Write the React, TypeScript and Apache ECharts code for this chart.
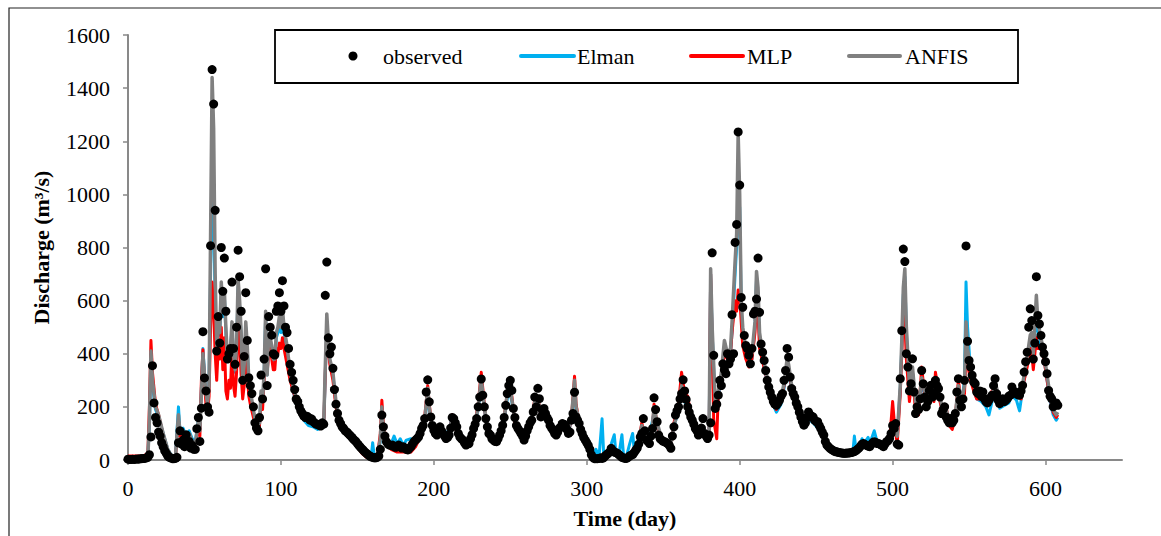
import React, { useEffect, useRef } from "react";
import * as echarts from "echarts";

// observed daily discharge, index = day
const observed: number[] = [
  3, 2, 2, 3, 2, 3, 4, 3, 5, 5,
  6, 6, 8, 10, 20, 87, 355, 215, 160, 140,
  105, 90, 65, 50, 35, 25, 15, 10, 8, 5,
  5, 6, 10, 65, 110, 60, 75, 50, 95, 60,
  70, 45, 55, 40, 40, 118, 160, 70, 195, 483,
  309, 260, 200, 180, 807, 1470, 1340, 940, 410, 540,
  440, 800, 635, 760, 560, 380, 400, 420, 670, 420,
  360, 500, 790, 690, 560, 300, 390, 630, 450, 310,
  280, 250, 200, 140, 120, 110, 160, 320, 230, 380,
  720, 280, 540, 500, 470, 400, 395, 560, 580, 630,
  560, 675, 580, 500, 480, 420, 360, 330, 300, 265,
  230, 220, 200, 185, 175, 165, 160, 165, 160, 150,
  155, 145, 140, 135, 135, 130, 128, 140, 135, 620,
  745, 460, 400, 425, 345, 265, 210, 175, 150, 137,
  125, 119, 110, 106, 100, 94, 88, 81, 75, 70,
  62, 55, 48, 42, 36, 30, 25, 20, 15, 12,
  10, 8, 8, 10, 15, 40, 169, 125, 90, 69,
  60, 56, 55, 56, 50, 48, 50, 56, 50, 45,
  50, 45, 40, 38, 44, 50, 60, 69, 75, 80,
  87, 100, 119, 130, 156, 256, 302, 219, 162, 130,
  112, 100, 94, 110, 125, 110, 100, 90, 81, 85,
  94, 120, 160, 156, 140, 125, 100, 87, 80, 75,
  65, 56, 60, 62, 80, 95, 119, 135, 156, 200,
  237, 305, 244, 200, 156, 125, 100, 94, 80, 75,
  70, 69, 80, 94, 110, 131, 160, 206, 250, 280,
  300, 262, 194, 160, 130, 119, 110, 100, 90, 75,
  90, 110, 125, 140, 150, 181, 237, 200, 270, 231,
  162, 187, 194, 175, 160, 150, 130, 120, 112, 100,
  94, 105, 119, 125, 137, 135, 131, 115, 100, 105,
  150, 175, 255, 162, 150, 137, 115, 100, 85, 75,
  65, 55, 40, 20, 10, 5, 5, 5, 6, 8,
  6, 8, 15, 20, 25, 30, 44, 35, 30, 28,
  25, 20, 15, 10, 8, 6, 6, 10, 15, 18,
  20, 28, 37, 45, 60, 87, 100, 156, 110, 75,
  70, 62, 90, 119, 234, 190, 144, 94, 80, 75,
  70, 69, 65, 62, 55, 44, 90, 125, 169, 185,
  200, 230, 250, 302, 260, 228, 200, 180, 162, 150,
  135, 119, 110, 94, 100, 120, 156, 100, 90, 81,
  94, 140, 780, 394, 194, 210, 244, 300, 280, 362,
  340, 325, 400, 362, 380, 547, 400, 819, 887, 1235,
  1035, 612, 575, 469, 431, 419, 394, 362, 420, 550,
  560, 606, 760, 556, 437, 406, 375, 337, 300, 275,
  255, 237, 220, 210, 206, 215, 225, 240, 250, 300,
  337, 420, 387, 312, 269, 250, 237, 215, 200, 180,
  162, 145, 131, 140, 160, 181, 170, 165, 162, 150,
  145, 144, 130, 119, 105, 94, 70, 56, 50, 44,
  40, 36, 33, 31, 30, 28, 27, 26, 25, 25,
  26, 26, 27, 28, 30, 32, 35, 40, 45, 52,
  60, 62, 58, 55, 52, 50, 58, 65, 69, 66,
  62, 62, 58, 55, 50, 60, 69, 72, 81, 100,
  130, 119, 137, 60, 56, 306, 487, 794, 747, 400,
  350, 260, 287, 381, 256, 175, 200, 190, 230, 337,
  287, 237, 200, 220, 262, 281, 237, 250, 300, 280,
  269, 237, 175, 190, 200, 162, 150, 140, 156, 140,
  150, 175, 256, 306, 225, 200, 230, 300, 806, 447,
  375, 350, 319, 294, 287, 256, 250, 260, 240, 256,
  231, 220, 215, 225, 235, 244, 280, 306, 250, 225,
  212, 225, 231, 220, 225, 231, 240, 244, 275, 260,
  256, 250, 245, 244, 260, 281, 331, 370, 406, 500,
  569, 525, 380, 440, 690, 544, 512, 469, 425, 400,
  370, 325, 262, 240, 231, 200, 210, 215, 206,
];

// model outputs: [day, discharge]
const elman: number[][] = [
  [0,10],[10,12],[13,20],[14,120],[15,400],[16,280],[18,190],[20,160],[23,100],[26,40],[29,12],[31,15],[33,200],[34,110],[36,120],[38,90],[40,110],[42,80],[44,70],
  [45,110],[46,150],[47,115],[48,270],[49,420],[50,330],[51,250],[52,210],[53,300],[54,700],[55,980],[56,920],[57,600],[58,430],[59,500],[60,470],[61,640],[62,540],[63,620],[64,480],[65,370],[66,390],[67,410],[68,500],[69,390],[70,330],[71,420],[72,650],[73,580],[74,460],[75,285],[76,350],[77,500],[78,420],[79,295],[80,250],[82,180],[84,115],[86,135],[87,250],[88,215],[89,320],[90,540],[91,320],[92,460],[93,450],[94,420],[95,370],[96,370],[97,460],[98,480],[99,520],[100,480],[101,540],[102,480],[104,410],
  [106,310],[108,260],[110,210],[112,180],[115,150],[118,130],[121,125],[124,115],[128,125],[129,320],[130,500],[131,430],[132,370],[134,320],[136,210],[138,150],[140,110],[145,80],[150,50],[153,28],[156,12],[159,10],[160,65],[161,15],[163,15],[165,70],[166,170],[167,110],[169,70],[172,60],[174,90],[176,60],[178,80],[180,55],[182,75],[185,80],[187,60],[190,95],[194,140],[196,250],[197,190],[199,120],[202,105],[204,125],[207,100],[210,110],[212,170],[214,130],[217,95],[220,70],[223,70],[226,110],[229,190],[231,290],[232,240],[234,150],[237,95],[240,75],[243,95],[246,150],[249,270],[251,220],[253,145],[256,105],[259,80],[262,120],[265,180],[266,210],[268,220],[270,160],[272,180],[275,140],[278,105],[280,95],[283,125],[286,120],[288,105],[290,150],[292,270],[293,190],[296,115],[299,75],[302,40],[304,15],[306,40],[308,10],[310,155],[311,30],[313,20],[315,45],[316,60],[318,95],[319,30],[321,20],[323,95],[324,20],[326,15],[328,60],[330,100],[331,40],[333,50],[336,120],[338,110],[340,110],[342,120],[344,180],[346,130],[349,80],[352,70],[355,65],[357,130],[360,180],[362,260],[364,220],[366,190],[369,140],[372,110],[375,120],[377,95],[380,100],[381,700],[382,480],[384,200],[386,240],[388,310],[390,420],[392,380],[394,400],[395,480],[397,700],[398,800],[399,1000],[400,950],[401,560],[402,470],[404,400],[406,360],[408,380],[410,500],[411,680],[412,620],[413,450],[415,380],[418,290],[421,220],[424,180],[427,210],[429,270],[431,350],[432,330],[434,260],[437,200],[440,145],[443,125],[445,155],[448,140],[451,120],[454,95],[457,60],[460,42],[465,30],[470,28],[474,30],[475,90],[476,40],[478,50],[480,80],[481,60],[484,85],[485,60],[488,110],[490,65],[492,70],[495,60],[498,85],[501,130],[503,90],[505,270],[506,430],[507,620],[508,690],[509,480],[511,270],[513,330],[515,210],[517,190],[519,290],[521,245],[523,205],[525,255],[527,225],[528,270],[531,225],[533,170],[535,180],[537,140],[539,135],[541,160],[543,260],[545,210],[547,300],[548,670],[549,500],[551,330],[553,270],[555,230],[558,220],[561,200],[563,170],[565,220],[567,280],[570,195],[573,205],[576,215],[578,245],[581,225],[583,185],[584,225],[586,300],[588,370],[590,450],[591,460],[592,380],[594,560],[595,490],[597,430],[599,380],[601,300],[603,220],[605,170],[607,150],[608,160],
];

const mlp: number[][] = [
  [0,15],[10,15],[13,25],[14,200],[15,450],[16,330],[18,210],[20,170],[23,95],[26,35],[29,8],[31,10],[33,150],[34,90],[36,100],[38,75],[40,95],[42,65],[44,55],
  [45,90],[46,130],[47,90],[48,300],[49,415],[50,290],[51,210],[52,180],[53,240],[54,500],[55,670],[56,560],[57,400],[58,300],[59,420],[60,380],[61,500],[62,340],[63,460],[64,260],[65,230],[66,300],[67,270],[68,420],[69,280],[70,240],[71,330],[72,540],[73,440],[74,320],[75,230],[76,280],[77,400],[78,320],[79,240],[80,210],[82,160],[84,110],[86,130],[87,220],[88,190],[89,300],[90,460],[91,330],[92,400],[93,420],[94,380],[95,340],[96,340],[97,420],[98,400],[99,440],[100,420],[101,460],[102,420],[104,360],
  [106,300],[108,260],[110,220],[112,190],[115,160],[118,145],[121,135],[124,125],[128,130],[129,330],[130,480],[131,420],[132,360],[134,300],[136,200],[138,150],[140,115],[145,85],[150,50],[153,25],[156,10],[160,5],[163,8],[165,100],[166,225],[167,140],[169,60],[172,40],[176,30],[180,30],[185,30],[188,50],[191,85],[194,160],[196,280],[197,210],[199,110],[202,90],[204,115],[207,80],[210,90],[212,170],[214,120],[217,80],[220,55],[223,55],[226,110],[229,210],[231,330],[232,270],[234,150],[237,90],[240,65],[243,85],[246,160],[249,300],[251,240],[253,140],[256,100],[259,70],[262,110],[265,190],[266,230],[268,240],[270,160],[272,200],[275,145],[278,100],[280,90],[283,125],[286,120],[288,100],[290,160],[292,315],[293,210],[296,110],[299,65],[302,35],[304,8],[308,5],[311,8],[314,20],[316,35],[319,20],[323,8],[326,5],[330,15],[333,35],[336,140],[338,85],[341,60],[343,120],[344,210],[346,135],[349,70],[352,55],[355,50],[357,140],[360,210],[362,330],[364,250],[366,240],[368,170],[369,140],[372,110],[375,110],[377,90],[380,80],[381,700],[382,450],[383,150],[385,80],[386,250],[388,320],[390,400],[392,380],[394,400],[395,480],[397,600],[398,560],[399,640],[400,620],[401,520],[402,430],[404,380],[406,350],[408,380],[410,480],[411,600],[412,550],[413,420],[415,370],[418,300],[421,230],[424,190],[427,220],[429,280],[431,360],[432,340],[434,270],[437,210],[440,150],[443,130],[445,160],[448,145],[451,125],[454,95],[457,55],[460,35],[465,22],[470,20],[475,22],[478,35],[481,55],[484,45],[488,55],[492,50],[495,45],[498,70],[500,220],[501,150],[503,60],[505,250],[506,400],[507,570],[508,520],[509,380],[511,220],[513,330],[515,180],[517,170],[519,350],[521,240],[523,200],[525,280],[527,220],[528,330],[531,220],[533,170],[535,200],[537,130],[539,115],[541,160],[543,300],[545,210],[547,250],[548,400],[549,360],[551,300],[553,260],[555,230],[558,230],[561,210],[565,260],[567,280],[570,205],[573,215],[576,230],[578,270],[581,245],[584,230],[586,300],[588,350],[590,420],[591,400],[592,340],[594,460],[595,420],[597,420],[599,380],[601,300],[603,230],[605,180],[607,160],[608,170],
];

const anfis: number[][] = [
  [0,8],[5,8],[10,10],[13,12],[14,150],[15,410],[16,300],[18,200],[20,170],[23,100],[26,40],[29,10],[31,10],[33,170],[34,100],[36,110],[38,80],[40,100],[42,70],[44,60],
  [45,100],[46,150],[47,110],[48,250],[49,400],[50,320],[51,250],[52,210],[53,280],[54,850],[55,1440],[56,1250],[57,700],[58,430],[59,520],[60,480],[61,670],[62,560],[63,640],[64,500],[65,380],[66,400],[67,420],[68,520],[69,400],[70,340],[71,430],[72,680],[73,600],[74,480],[75,290],[76,360],[77,520],[78,430],[79,300],[80,260],[82,190],[84,120],[86,140],[87,260],[88,220],[89,330],[90,560],[91,320],[92,470],[93,460],[94,430],[95,380],[96,380],[97,480],[98,500],[99,540],[100,500],[101,570],[102,500],[104,430],
  [106,330],[108,280],[110,230],[112,200],[115,170],[118,150],[121,140],[124,130],[128,140],[129,350],[130,550],[131,450],[132,380],[134,330],[136,220],[138,160],[140,120],[145,90],[150,55],[153,30],[156,15],[160,10],[163,12],[165,80],[166,200],[167,120],[169,70],[172,50],[176,40],[180,40],[185,40],[188,60],[191,90],[194,150],[196,270],[197,200],[199,120],[202,100],[204,120],[207,90],[210,100],[212,160],[214,130],[217,90],[220,65],[223,65],[226,110],[229,200],[231,310],[232,250],[234,160],[237,100],[240,75],[243,95],[246,160],[249,290],[251,230],[253,150],[256,110],[259,80],[262,120],[265,190],[266,220],[268,230],[270,170],[272,190],[275,150],[278,110],[280,100],[283,130],[286,125],[288,110],[290,160],[292,300],[293,200],[296,120],[299,75],[302,40],[304,12],[308,8],[311,10],[314,25],[316,40],[319,25],[323,10],[326,8],[330,20],[333,40],[336,130],[338,90],[341,70],[343,130],[344,200],[346,140],[349,80],[352,65],[355,60],[357,130],[360,190],[362,280],[364,240],[366,200],[369,150],[372,120],[375,130],[377,100],[380,110],[381,720],[382,500],[384,220],[386,260],[388,330],[390,450],[392,400],[394,420],[395,520],[397,750],[398,850],[399,1230],[400,1000],[401,600],[402,500],[404,420],[406,380],[408,400],[410,520],[411,710],[412,650],[413,480],[415,400],[418,310],[421,240],[424,200],[427,230],[429,290],[431,380],[432,360],[434,280],[437,220],[440,160],[443,140],[445,170],[448,155],[451,135],[454,105],[457,65],[460,45],[465,32],[470,30],[475,32],[478,45],[481,65],[484,55],[488,65],[492,60],[495,55],[498,80],[501,120],[503,90],[505,280],[506,450],[507,650],[508,720],[509,500],[511,280],[513,350],[515,220],[517,200],[519,310],[521,260],[523,220],[525,270],[527,240],[528,290],[531,240],[533,180],[535,190],[537,150],[539,145],[541,170],[543,280],[545,220],[547,280],[548,520],[549,420],[551,340],[553,290],[555,250],[558,240],[561,220],[565,240],[567,300],[570,215],[573,225],[576,235],[578,265],[581,250],[584,250],[586,320],[588,390],[590,470],[591,480],[592,400],[594,620],[595,520],[597,460],[599,400],[601,320],[603,240],[605,190],[607,170],[608,180],
];

const xTickValues = [0, 100, 200, 300, 400, 500, 600];

const FONT = "'Liberation Serif', 'Times New Roman', serif";
const AXIS_GRAY = "#898989";

export default function App() {
  const ref = useRef<HTMLDivElement>(null);

  useEffect(() => {
    if (!ref.current) return;
    const chart = echarts.init(ref.current, null, { renderer: "svg" });
    const legendY = 56;
    chart.setOption({
      animation: false,
      backgroundColor: "#ffffff",
      grid: { left: 128, top: 35, right: 39, bottom: 76, containLabel: false },
      xAxis: {
        type: "value",
        min: 0,
        max: 650,
        interval: 100,
        name: "Time (day)",
        nameLocation: "middle",
        nameGap: 47,
        nameTextStyle: { fontFamily: FONT, fontSize: 22, fontWeight: "bold", color: "#000" },
        axisLine: { show: true, onZero: false, lineStyle: { color: AXIS_GRAY, width: 2 } },
        axisTick: { show: true, length: 5, customValues: xTickValues, lineStyle: { color: AXIS_GRAY, width: 1.5 } },
        axisLabel: {
          fontFamily: FONT,
          fontSize: 22,
          color: "#000",
          margin: 17,
          customValues: xTickValues,
          formatter: (v: number) => String(v),
        },
        splitLine: { show: false },
      },
      yAxis: {
        type: "value",
        min: 0,
        max: 1600,
        interval: 200,
        name: "Discharge (m³/s)",
        nameLocation: "middle",
        nameGap: 76,
        nameTextStyle: { fontFamily: FONT, fontSize: 22, fontWeight: "bold", color: "#000" },
        axisLine: { show: true, lineStyle: { color: AXIS_GRAY, width: 2 } },
        axisTick: { show: true, length: 5, lineStyle: { color: AXIS_GRAY, width: 1.5 } },
        axisLabel: {
          fontFamily: FONT,
          fontSize: 22,
          color: "#000",
          margin: 18,
          formatter: (v: number) => String(v),
        },
        splitLine: { show: false },
      },
      legend: { show: false },
      series: [
        {
          name: "Elman",
          type: "line",
          data: elman,
          symbol: "none",
          showSymbol: false,
          lineStyle: { color: "#00B0F0", width: 3, join: "round" },
          itemStyle: { color: "#00B0F0" },
          z: 2,
        },
        {
          name: "MLP",
          type: "line",
          data: mlp,
          symbol: "none",
          showSymbol: false,
          lineStyle: { color: "#FF0000", width: 3, join: "round" },
          itemStyle: { color: "#FF0000" },
          z: 3,
        },
        {
          name: "ANFIS",
          type: "line",
          data: anfis,
          symbol: "none",
          showSymbol: false,
          lineStyle: { color: "#808080", width: 3.5, join: "round" },
          itemStyle: { color: "#808080" },
          z: 4,
        },
        {
          name: "observed",
          type: "scatter",
          data: observed.map((v, i) => [i, v]),
          symbol: "circle",
          symbolSize: 9,
          itemStyle: { color: "#000000", opacity: 1 },
          z: 5,
        },
      ],
      graphic: [
        {
          type: "polyline",
          silent: true,
          shape: { points: [[9, 540], [9, 8], [1165, 8]] },
          style: { stroke: "#222", lineWidth: 1.2, fill: "none" },
          z: 10,
        },
        {
          type: "rect",
          shape: { x: 275, y: 30, width: 743, height: 53 },
          style: { stroke: "#000", lineWidth: 1.8, fill: "#ffffff" },
          z: 10,
        },
        {
          type: "circle",
          shape: { cx: 353, cy: legendY, r: 4.5 },
          style: { fill: "#000" },
          z: 11,
        },
        {
          type: "text",
          x: 383,
          y: legendY,
          style: { text: "observed", font: `22px ${FONT}`, fill: "#000", verticalAlign: "middle", align: "left" },
          z: 11,
        },
        {
          type: "line",
          shape: { x1: 521, y1: legendY, x2: 574, y2: legendY },
          style: { stroke: "#00B0F0", lineWidth: 4, lineCap: "round" },
          z: 11,
        },
        {
          type: "text",
          x: 577,
          y: legendY,
          style: { text: "Elman", font: `22px ${FONT}`, fill: "#000", verticalAlign: "middle", align: "left" },
          z: 11,
        },
        {
          type: "line",
          shape: { x1: 691, y1: legendY, x2: 743, y2: legendY },
          style: { stroke: "#FF0000", lineWidth: 4, lineCap: "round" },
          z: 11,
        },
        {
          type: "text",
          x: 747,
          y: legendY,
          style: { text: "MLP", font: `22px ${FONT}`, fill: "#000", verticalAlign: "middle", align: "left" },
          z: 11,
        },
        {
          type: "line",
          shape: { x1: 849, y1: legendY, x2: 900, y2: legendY },
          style: { stroke: "#808080", lineWidth: 4, lineCap: "round" },
          z: 11,
        },
        {
          type: "text",
          x: 905,
          y: legendY,
          style: { text: "ANFIS", font: `22px ${FONT}`, fill: "#000", verticalAlign: "middle", align: "left" },
          z: 11,
        },
      ],
    });
    return () => chart.dispose();
  }, []);

  return (
    <div
      ref={ref}
      style={{ position: "fixed", left: 0, top: 0, width: 1161, height: 536, background: "#fff" }}
    />
  );
}
